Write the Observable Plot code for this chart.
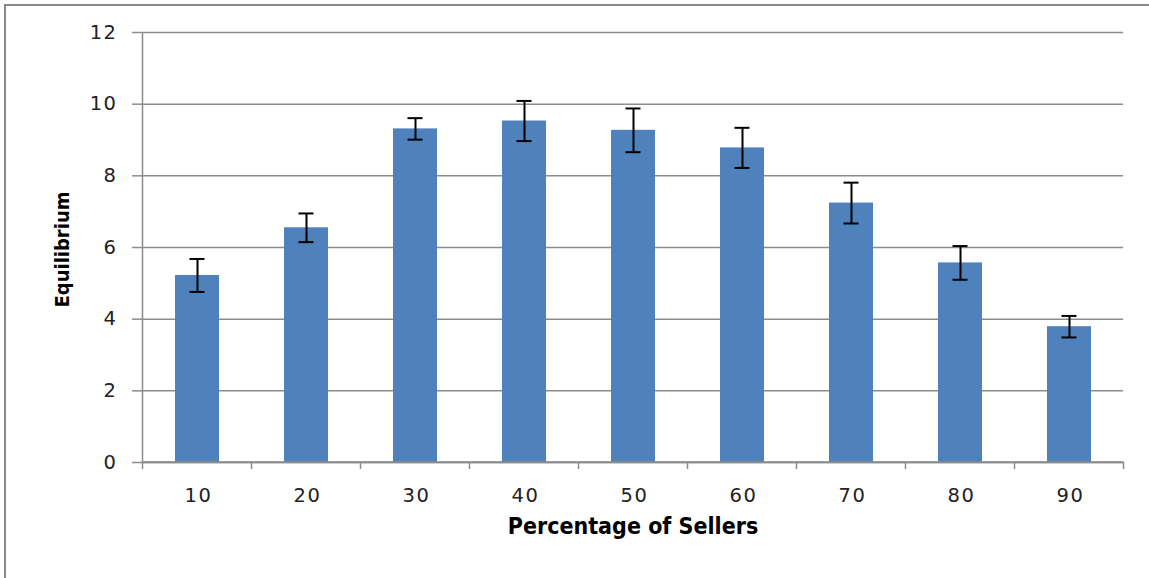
<!DOCTYPE html>
<html>
<head>
<meta charset="utf-8">
<script src="https://cdn.jsdelivr.net/npm/d3@7"></script>
<script src="https://cdn.jsdelivr.net/npm/@observablehq/plot@0.6"></script>
<style>
  html, body { margin: 0; padding: 0; background: #fff; overflow: hidden; }
  #wrap { position: relative; width: 1149px; height: 578px; }
  #border { position: absolute; left: 4px; top: 4px; width: 1200px; height: 700px; border: 2px solid #8a8a8a; box-sizing: border-box; }
  #chart { position: absolute; left: 0; top: 0; }
  #chart svg g[aria-label="y-axis tick label"],
  #chart svg g[aria-label="x-axis tick label"] { font-size: 19.5px; }
  #chart svg g[aria-label="y-axis tick label"] text,
  #chart svg g[aria-label="x-axis tick label"] text { letter-spacing: 1.5px; }
</style>
</head>
<body>
<div id="wrap"><div id="border"></div><div id="chart"></div></div>
<script>
const sellers = ["10", "20", "30", "40", "50", "60", "70", "80", "90"];
const equilibrium = [5.22, 6.55, 9.31, 9.53, 9.27, 8.78, 7.24, 5.57, 3.79];
const errors = [0.46, 0.40, 0.30, 0.56, 0.61, 0.56, 0.57, 0.47, 0.30];
const yTicks = [0, 2, 4, 6, 8, 10, 12];

const data = sellers.map((s, i) => ({s, v: equilibrium[i], e: errors[i]}));
const gray = "#8c8c8c";
const font = "'DejaVu Sans', Verdana, sans-serif";
const boldFont = "'DejaVu Sans Condensed', 'DejaVu Sans', sans-serif";

const plot = Plot.plot({
  width: 1149,
  height: 578,
  marginLeft: 142,
  marginRight: 26,
  marginTop: 32,
  marginBottom: 116,
  style: {fontFamily: font, fontSize: "19.5px", color: "#222", background: "transparent"},
  x: {domain: sellers, paddingInner: 0.6, paddingOuter: 0.3},
  y: {domain: [0, 12]},
  marks: [
    Plot.gridY(yTicks, {stroke: gray, strokeOpacity: 1, strokeWidth: 1.5}),
    Plot.barY(data, {x: "s", y: "v", fill: "#4f81bd"}),
    Plot.ruleX(data, {x: "s", y1: d => d.v - d.e, y2: d => d.v + d.e, stroke: "#000", strokeWidth: 2}),
    Plot.tickY(data, {x: "s", y: d => d.v + d.e, stroke: "#000", strokeWidth: 2, insetLeft: 14.5, insetRight: 14.5}),
    Plot.tickY(data, {x: "s", y: d => d.v - d.e, stroke: "#000", strokeWidth: 2, insetLeft: 14.5, insetRight: 14.5}),
    Plot.axisY({ticks: yTicks, tickSize: 10, tickPadding: 15, stroke: gray, strokeWidth: 1.5, label: null}),
    Plot.axisX({tickSize: 0, tickPadding: 26, dx: 1, label: null}),
    Plot.ruleY([0], {stroke: gray, strokeWidth: 1.5}),
    Plot.text(["Equilibrium"], {frameAnchor: "left", textAnchor: "middle", rotate: -90, dx: -80, dy: 2, fontWeight: "bold", fontSize: 20, fontFamily: boldFont, fill: "#000"}),
    Plot.text(["Percentage of Sellers"], {frameAnchor: "bottom", dy: 71, fontWeight: "bold", fontSize: 23, fontFamily: boldFont, fill: "#000"})
  ]
});

// y axis line and x boundary ticks drawn from the plot's own scales
const xs = plot.scale("x");
const ys = plot.scale("y");
const step = xs.step;
const svg = d3.select(plot);
const g = svg.append("g").attr("stroke", gray).attr("stroke-width", 1.5);
const y0 = ys.apply(0);
const x0 = xs.apply(sellers[0]) - (step - xs.bandwidth) / 2;
g.append("line").attr("x1", x0).attr("x2", x0).attr("y1", ys.apply(12)).attr("y2", y0 + 7);
sellers.forEach((s, i) => {
  const bx = x0 + step * (i + 1);
  g.append("line").attr("x1", bx).attr("x2", bx).attr("y1", y0).attr("y2", y0 + 7);
});
g.append("line").attr("x1", x0).attr("x2", x0 + step * sellers.length).attr("y1", y0).attr("y2", y0);

document.getElementById("chart").appendChild(plot);
</script>
</body>
</html>
